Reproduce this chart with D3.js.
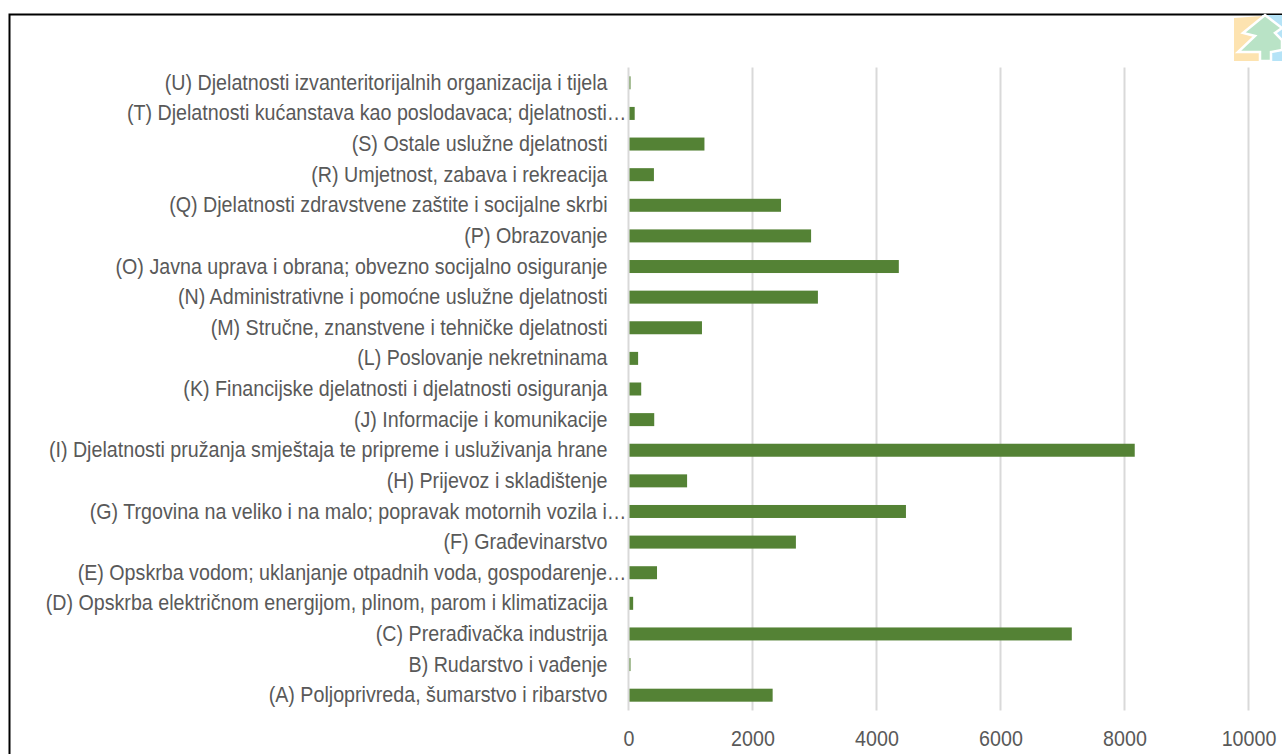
<!DOCTYPE html>
<html>
<head>
<meta charset="utf-8">
<script src="https://cdn.jsdelivr.net/npm/d3@7"></script>
<style>
  html, body { margin: 0; padding: 0; background: #fff; overflow: hidden; }
  text { font-family: "Liberation Sans", Arial, sans-serif; fill: #595959; }
</style>
</head>
<body>
<div id="chart_wrapper"></div>
<script>
// top to bottom, as in the picture
const categories = [
  "(U) Djelatnosti izvanteritorijalnih organizacija i tijela",
  "(T) Djelatnosti kućanstava kao poslodavaca; djelatnosti…",
  "(S) Ostale uslužne djelatnosti",
  "(R) Umjetnost, zabava i rekreacija",
  "(Q) Djelatnosti zdravstvene zaštite i socijalne skrbi",
  "(P) Obrazovanje",
  "(O) Javna uprava i obrana; obvezno socijalno osiguranje",
  "(N) Administrativne i pomoćne uslužne djelatnosti",
  "(M) Stručne, znanstvene i tehničke djelatnosti",
  "(L) Poslovanje nekretninama",
  "(K) Financijske djelatnosti i djelatnosti osiguranja",
  "(J) Informacije i komunikacije",
  "(I) Djelatnosti pružanja smještaja te pripreme i usluživanja hrane",
  "(H) Prijevoz i skladištenje",
  "(G) Trgovina na veliko i na malo; popravak motornih vozila i…",
  "(F) Građevinarstvo",
  "(E) Opskrba vodom; uklanjanje otpadnih voda, gospodarenje…",
  "(D) Opskrba električnom energijom, plinom, parom i klimatizacija",
  "(C) Prerađivačka industrija",
  "B) Rudarstvo i vađenje",
  "(A) Poljoprivreda, šumarstvo i ribarstvo"
];
const values = [10, 100, 1225, 410, 2460, 2945, 4360, 3055, 1185, 155, 205, 415, 8165, 945, 4475, 2700, 460, 75, 7150, 15, 2325];
const xTicks = [0, 2000, 4000, 6000, 8000, 10000];

const WIDTH = 1282, HEIGHT = 754;
const plot = { left: 628.5, right: 1248.5, top: 67.5, bottom: 710.5 };
const labelSqueeze = 0.894;

const svg = d3.select('#chart_wrapper').append('svg')
  .attr('width', WIDTH)
  .attr('height', HEIGHT)
  .style('display', 'block');

// page frame
svg.append('path')
  .attr('d', `M9.5,${HEIGHT} V14.5 H${WIDTH}`)
  .attr('fill', 'none')
  .attr('stroke', '#000')
  .attr('stroke-width', 2);

// logo in the corner
const logo = svg.append('g').attr('transform', 'translate(1234,15)');
logo.append('polygon').attr('points', '0,3 28,1 28,46 0,46').attr('fill', '#fde3b0');
logo.append('rect').attr('x', 28).attr('width', 20).attr('height', 46).attr('fill', '#b5e3f7');
logo.append('polygon')
  .attr('points', '31,0 48,13 41,18 48,25 48,35 37,37 37,46 26,46 26,37 4,37 21,21 9,18 31,0')
  .attr('fill', '#b9e3c6')
  .attr('stroke', '#fff')
  .attr('stroke-width', 2.5);

const x = d3.scaleLinear().domain([0, 10000]).range([plot.left, plot.right]);
const y = d3.scaleBand().domain(categories).range([plot.top, plot.bottom]).paddingInner(0).paddingOuter(0);

// gridlines
svg.append('g').selectAll('line')
  .data(xTicks)
  .join('line')
  .attr('x1', d => x(d)).attr('x2', d => x(d))
  .attr('y1', plot.top).attr('y2', plot.bottom)
  .attr('stroke', '#d9d9d9')
  .attr('stroke-width', 2);

// bars
const barHeight = 13;
svg.append('g').selectAll('rect')
  .data(values)
  .join('rect')
  .attr('x', x(0) + 1)
  .attr('y', (d, i) => y(categories[i]) + y.bandwidth() / 2 - barHeight / 2)
  .attr('width', d => Math.max(x(d) - x(0) - 1, 1))
  .attr('height', barHeight)
  .attr('fill', '#548235');

function styleLabels(sel) {
  sel.selectAll('text')
    .style('font-size', '22px')
    .style('font-family', '"Liberation Sans", Arial, sans-serif')
    .style('fill', '#595959')
    .each(function () {
      const w = this.getComputedTextLength();
      d3.select(this).attr('textLength', w * labelSqueeze).attr('lengthAdjust', 'spacingAndGlyphs');
    });
}

// axes
const yAxis = svg.append('g')
  .attr('transform', `translate(${plot.left},0)`)
  .call(d3.axisLeft(y).tickSize(0).tickPadding(21));
yAxis.select('.domain').remove();
styleLabels(yAxis);
// cut off labels run on past the others, almost up to the axis
yAxis.selectAll('text')
  .filter(d => d.endsWith('…'))
  .attr('x', -2);

const xAxis = svg.append('g')
  .attr('transform', `translate(0,${plot.bottom})`)
  .call(d3.axisBottom(x).tickValues(xTicks).tickFormat(d3.format('d')).tickSize(0).tickPadding(20));
xAxis.select('.domain').remove();
styleLabels(xAxis);
</script>
</body>
</html>
